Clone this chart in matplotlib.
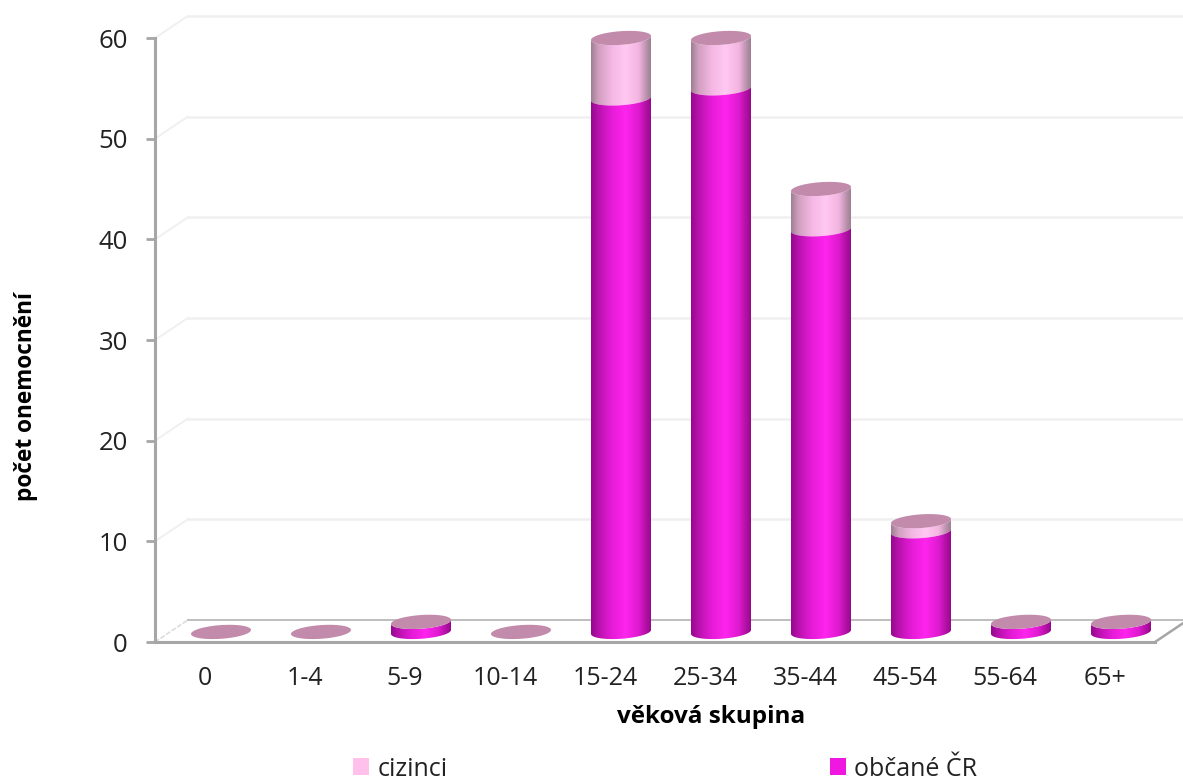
import numpy as np
import matplotlib
matplotlib.use("Agg")
import matplotlib.pyplot as plt
from matplotlib.colors import LinearSegmentedColormap
from matplotlib.patches import Patch, Polygon

categories = ["0", "1-4", "5-9", "10-14", "15-24", "25-34", "35-44", "45-54", "55-64", "65+"]
obcane_cr = [0, 0, 1, 0, 53, 54, 40, 10, 1, 1]
cizinci = [0, 0, 0, 0, 6, 5, 4, 1, 0, 0]
y_ticks = [0, 10, 20, 30, 40, 50, 60]

# depth of the pseudo-3D box, in data units
DX, DY = 0.33, 2.2
BAR_DX, BAR_DY = 0.16, 1.0
HALF_W, ELL_B, ELL_TILT = 0.30, 0.68, 0.20

plt.rcParams["font.family"] = ["Open Sans", "DejaVu Sans"]
fig = plt.figure(figsize=(11.83, 7.80), dpi=100, facecolor="white")
ax = fig.add_axes([155 / 1183, (780 - 642) / 780, 1000 / 1183, 604 / 780])
ax.set_facecolor("none")

cmap_mag = LinearSegmentedColormap.from_list(
    "mag", [(0, "#950A8C"), (0.12, "#B812AC"), (0.35, "#E61CD8"), (0.58, "#FF24EE"),
            (0.8, "#DE1ACE"), (0.95, "#A80E9C"), (1, "#960A8C")])
cmap_pink = LinearSegmentedColormap.from_list(
    "pink", [(0, "#9E8092"), (0.12, "#D09EBF"), (0.35, "#F5B8E4"), (0.58, "#FFC8F2"),
             (0.8, "#F3B4E0"), (0.95, "#B08CA4"), (1, "#9E8092")])
CAP = "#C28BAB"
GRID = "#F0F0F0"
FLOOR = "#BEBEBE"
AXIS = "#A6A6A6"

# walls
x_back0, x_back1 = -0.5 + DX, 9.5 + DX
for v in y_ticks[1:]:
    ax.plot([x_back0, x_back1], [v + DY, v + DY], color=GRID, lw=1.8, clip_on=False, zorder=1)
    ax.plot([-0.5, x_back0], [v, v + DY], color=GRID, lw=1.4, clip_on=False, zorder=1)
ax.plot([x_back0, x_back1], [DY, DY], color=FLOOR, lw=1.4, clip_on=False, zorder=1)
ax.plot([-0.5, x_back0], [0, DY], color="#DDDDDD", lw=1.2, ls=(0, (3, 1)), clip_on=False, zorder=1)
ax.plot([9.5, x_back1], [0, DY], color=AXIS, lw=1.8, clip_on=False, zorder=1)


def arc(cx, cy, t):
    return np.column_stack([cx + HALF_W * np.cos(t), cy + ELL_B * np.sin(t) + ELL_TILT * np.cos(t)])


def body(cx, y0, y1, cmap, z):
    t = np.linspace(np.pi, 2 * np.pi, 50)
    pts = np.vstack([arc(cx, y0, t), arc(cx, y1, t[::-1])])
    im = ax.imshow(np.linspace(0, 1, 128)[None, :], cmap=cmap, aspect="auto", zorder=z,
                   extent=[cx - HALF_W, cx + HALF_W, y0 - 1.5, y1 + 1.5], interpolation="bilinear")
    im.set_clip_box(fig.bbox)
    im.set_clip_path(Polygon(pts, closed=True, transform=ax.transData))


for i, (a, b) in enumerate(zip(obcane_cr, cizinci)):
    cx = i + BAR_DX
    if b > 0:
        body(cx, BAR_DY + a, BAR_DY + a + b, cmap_pink, 3)
    if a > 0:
        body(cx, BAR_DY, BAR_DY + a, cmap_mag, 4)
    t = np.linspace(0, 2 * np.pi, 100)
    ax.add_patch(Polygon(arc(cx, BAR_DY + a + b, t), closed=True, fc=CAP, ec="none", zorder=5,
                         clip_on=False))

ax.set_xlim(-0.5, 9.5)
ax.set_ylim(0, 60)
ax.set_xticks(range(len(categories)))
ax.set_xticklabels(categories)
ax.set_yticks(y_ticks)
ax.tick_params(axis="x", length=0, pad=17, labelsize=18, labelcolor="#222222")
ax.tick_params(axis="y", length=6.5, width=2, color=AXIS, pad=13, labelsize=18.5, labelcolor="#222222")
for s in ("top", "right"):
    ax.spines[s].set_visible(False)
for s in ("left", "bottom"):
    ax.spines[s].set_color(AXIS)
    ax.spines[s].set_linewidth(2.2)

ax.set_xlabel("věková skupina", fontsize=17.5, fontweight="bold", color="black", va="center")
ax.xaxis.set_label_coords(0.556, -0.124)
ax.set_ylabel("počet onemocnění", fontsize=16.3, fontweight="bold", color="black", va="center")
ax.yaxis.set_label_coords(-0.129, 0.407)

handles = [Patch(fc="#FFC0EC", ec="none", label="cizinci"), Patch(fc="#F018E0", ec="none", label="občané ČR")]
fig.legend(handles=handles, ncols=2, frameon=False, fontsize=18, labelcolor="#222222",
           handlelength=0.64, handleheight=0.64, handletextpad=0.32, columnspacing=15.3,
           loc="center", bbox_to_anchor=(665 / 1183, 1 - 769 / 780), borderpad=0)

fig.savefig("out.png", dpi=100)
